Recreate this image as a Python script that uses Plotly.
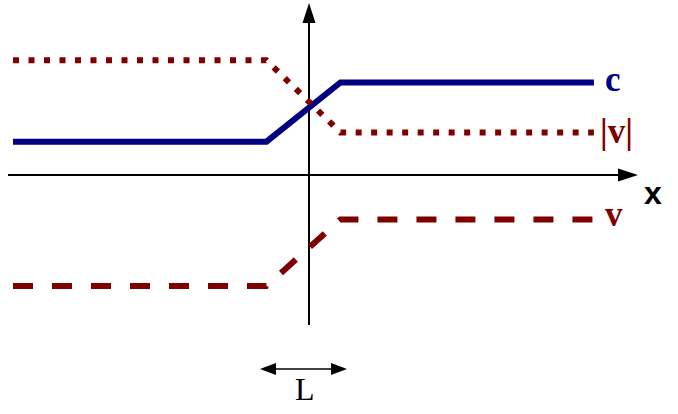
import plotly.graph_objects as go

# Perfil de las tres magnitudes a lo largo de x (unidades arbitrarias,
# el cero está en el cruce de los ejes)
x_pts = [-8.0, -1.15, 0.85, 7.7]
c_vals = [0.9, 0.9, 2.5, 2.5]
abs_v_vals = [3.1, 3.1, 1.15, 1.15]
v_vals = [-3.0, -3.0, -1.2, -1.2]

AZUL = '#000080'
ROJO = '#800000'
NEGRO = '#000000'

ESCALA = 37  # px por unidad
X_RANGO = [-309 / ESCALA, (678 - 309) / ESCALA]
Y_RANGO = [(175 - 414) / ESCALA, 175 / ESCALA]


def punta(x, y, dx, dy, largo=20, ancho=6.5):
    """Triángulo relleno con la punta en (x, y) apuntando hacia (dx, dy)."""
    l, a = largo / ESCALA, ancho / ESCALA
    bx, by = x - dx * l, y - dy * l
    nx, ny = -dy, dx
    return (f'M{x},{y} L{bx + nx * a},{by + ny * a} '
            f'L{bx - nx * a},{by - ny * a} Z')


fig = go.Figure()

series = [
    ('c', c_vals, AZUL, 'solid'),
    ('|v|', abs_v_vals, ROJO, '6px,9.5px'),
    ('v', v_vals, ROJO, '20px,19px'),
]
for nombre, valores, color, dash in series:
    fig.add_trace(go.Scatter(
        x=x_pts, y=valores, mode='lines', name=nombre,
        line=dict(color=color, width=6, dash=dash),
        hoverinfo='skip',
    ))

# Ejes dibujados a mano
x_ini, x_fin = -8.135, 8.892
y_ini, y_fin = -4.054, 4.649
L_ini, L_fin, L_y = -1.324, 1.027, -5.243
shapes = [
    dict(type='line', x0=x_ini, x1=x_fin - 15 / ESCALA, y0=0, y1=0,
         line=dict(color=NEGRO, width=2), layer='below'),
    dict(type='line', x0=0, x1=0, y0=y_ini, y1=y_fin - 15 / ESCALA,
         line=dict(color=NEGRO, width=2), layer='below'),
    dict(type='path', path=punta(x_fin, 0, 1, 0), fillcolor=NEGRO,
         line=dict(width=0), layer='below'),
    dict(type='path', path=punta(0, y_fin, 0, 1), fillcolor=NEGRO,
         line=dict(width=0), layer='below'),
    # flecha doble de L
    dict(type='line', x0=L_ini + 5 / ESCALA, x1=L_fin - 5 / ESCALA, y0=L_y, y1=L_y,
         line=dict(color=NEGRO, width=1.5)),
    dict(type='path', path=punta(L_ini, L_y, -1, 0, largo=16, ancho=6),
         fillcolor=NEGRO, line=dict(width=0)),
    dict(type='path', path=punta(L_fin, L_y, 1, 0, largo=16, ancho=6),
         fillcolor=NEGRO, line=dict(width=0)),
]

serif = 'Liberation Serif, Times New Roman, serif'
anotaciones = [
    dict(x=x_pts[-1], y=c_vals[-1], text='c', xshift=9, yshift=3,
         font=dict(family=serif, size=35, color=AZUL, weight='bold')),
    dict(x=x_pts[-1], y=abs_v_vals[-1], text='|v|', xshift=4, yshift=1,
         font=dict(family=serif, size=35, color=ROJO, weight='bold')),
    dict(x=x_pts[-1], y=v_vals[-1], text='v', xshift=9, yshift=5,
         font=dict(family=serif, size=35, color=ROJO, weight='bold')),
    dict(x=x_fin + 4 / ESCALA, y=0, text='x', xshift=0, yshift=-18,
         font=dict(family='Liberation Sans, Arial, sans-serif', size=32,
                   color=NEGRO, weight='bold')),
    dict(x=(L_ini + L_fin) / 2, y=L_y, text='L', xshift=1, yshift=-20,
         font=dict(family=serif, size=32, color=NEGRO)),
]
for a in anotaciones:
    a.update(showarrow=False, xanchor='left' if a['text'] in ('c', '|v|', 'v', 'x') else 'center',
             yanchor='middle')

fig.update_layout(
    width=678, height=414,
    margin=dict(l=0, r=0, t=0, b=0),
    paper_bgcolor='white', plot_bgcolor='white',
    showlegend=False,
    shapes=shapes,
    annotations=anotaciones,
)
fig.update_xaxes(range=X_RANGO, visible=False, fixedrange=True)
fig.update_yaxes(range=Y_RANGO, visible=False, fixedrange=True)

fig.write_html('out.html', config=dict(displayModeBar=False),
               post_script="document.body.style.margin='0';")
